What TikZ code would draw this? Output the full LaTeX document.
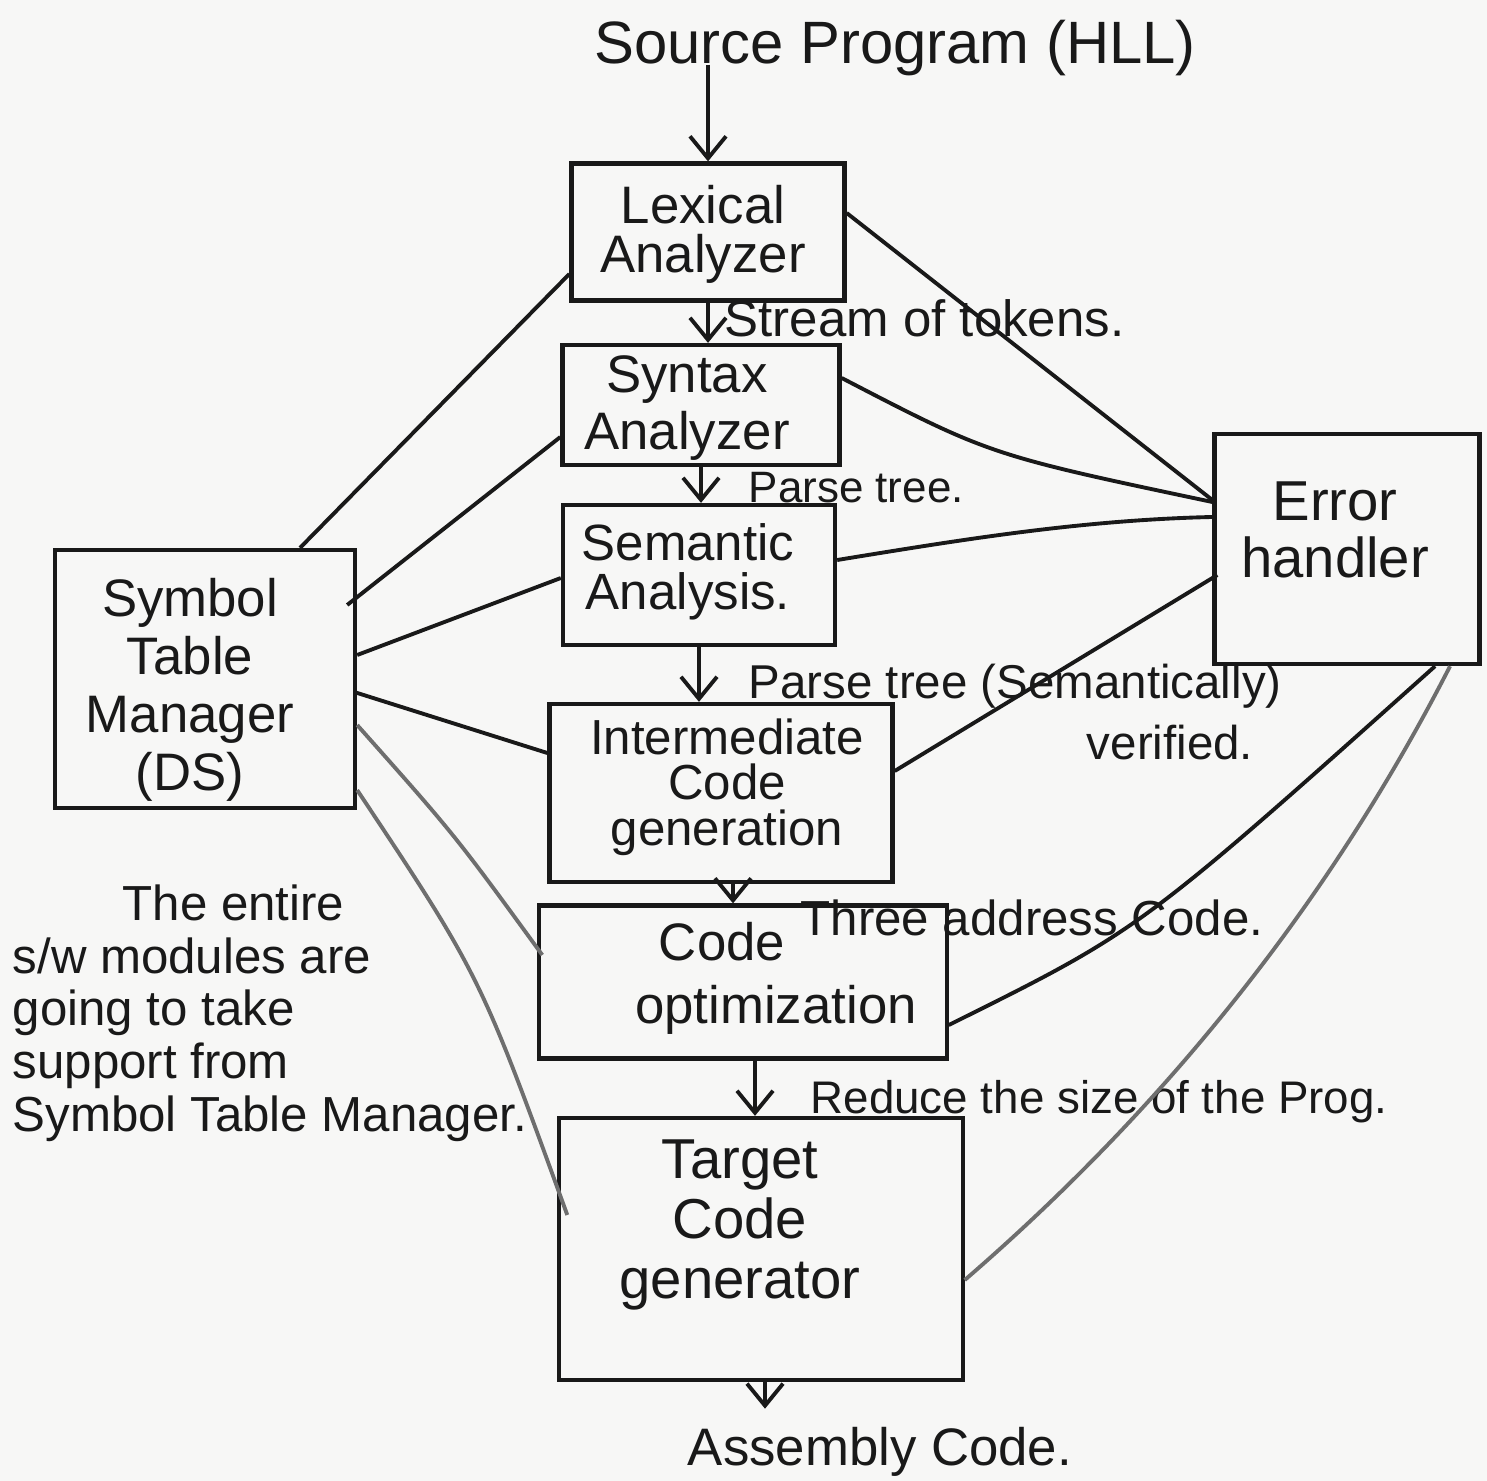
\documentclass[tikz,border=0pt]{standalone}
\usepackage{fontspec}
\setmainfont{Liberation Sans}
\usetikzlibrary{arrows.meta,calc}
\definecolor{paper}{RGB}{247,247,246}
\definecolor{ink}{RGB}{25,25,25}
\definecolor{pencil}{RGB}{110,110,110}
\begin{document}
\begin{tikzpicture}[x=0.01cm,y=-0.01cm,
  box/.style={draw=ink,line width=1.2pt,inner sep=0pt},
  lbl/.style={text=ink,align=center,inner sep=0pt},
  note/.style={text=ink,inner sep=0pt,anchor=west},
  flow/.style={draw=ink,line width=1.1pt,-{Straight Barb[length=2.2mm,width=3.6mm]}},
  link/.style={draw=ink,line width=1.1pt},
  faint/.style={draw=pencil,line width=1.1pt}]
\fill[paper] (0,0) rectangle (1487,1481);
\useasboundingbox (0,0) rectangle (1487,1481);

% phase boxes
\node[box,minimum width=2.73cm,minimum height=1.37cm] (lex) at (708,232) {};
\node[box,minimum width=2.77cm,minimum height=1.20cm] (syn) at (701,405) {};
\node[box,minimum width=2.72cm,minimum height=1.40cm] (sem) at (699,575) {};
\node[box,minimum width=3.43cm,minimum height=1.78cm] (icg) at (721,793) {};
\node[box,minimum width=4.07cm,minimum height=1.53cm] (opt) at (743,982) {};
\node[box,minimum width=4.03cm,minimum height=2.62cm] (tcg) at (761,1249) {};
\node[box,minimum width=3.00cm,minimum height=2.58cm] (stm) at (205,679) {};
\node[box,minimum width=2.65cm,minimum height=2.30cm] (err) at (1347,549) {};

% box texts
\node[lbl,font=\fontsize{15}{14}\selectfont] (lexT) at (703,234) {Lexical\\Analyzer};
\node[lbl,font=\fontsize{15}{16}\selectfont] (synT) at (687,408) {Syntax\\Analyzer};
\node[lbl,font=\fontsize{14.5}{14}\selectfont] (semT) at (688,572) {Semantic\\Analysis.};
\node[lbl,font=\fontsize{14}{13}\selectfont] (icgT) at (727,787) {Intermediate\\Code\\generation};
\node[lbl,font=\fontsize{15}{15}\selectfont] (optT1) at (722,942) {Code};
\node[lbl,font=\fontsize{15}{15}\selectfont] (optT2) at (776,1010) {optimization};
\node[lbl,font=\fontsize{16}{17}\selectfont] (tcgT) at (740,1225) {Target\\Code\\generator};
\node[lbl,font=\fontsize{15}{16.5}\selectfont] (stmT) at (190,690) {Symbol\\Table\\Manager\\(DS)};
\node[lbl,font=\fontsize{16}{16}\selectfont] (errT) at (1335,530) {Error\\handler};

% input and output
\node[lbl,font=\fontsize{17}{17}\selectfont] (src) at (895,48) {Source Program (HLL)};
\node[lbl,font=\fontsize{15}{15}\selectfont] (asm) at (880,1452) {Assembly Code.};

% main flow
\draw[flow] (lex.north |- src.south) ++(0,-12) -- (lex.north);
\draw[flow] (lex.south) -- (lex.south |- syn.north);
\draw[flow] (syn.south) -- (syn.south |- sem.north);
\draw[flow] (sem.south) -- (sem.south |- icg.north);
\draw[flow] ([xshift=0.12cm]icg.south) -- ([xshift=0.12cm]icg.south |- opt.north);
\draw[flow] ([xshift=0.12cm]opt.south) -- ([xshift=0.12cm]opt.south |- tcg.north);
\draw[flow,shorten >=0.18cm] ([xshift=0.04cm]tcg.south) -- ([xshift=0.04cm]tcg.south |- asm.north);

% flow labels
\node[note,font=\fontsize{14.5}{14.5}\selectfont] (l1) at (724,318) {Stream of tokens.};
\node[note,font=\fontsize{12.5}{12.5}\selectfont] (l2) at (748,488) {Parse tree.};
\node[note,font=\fontsize{13.5}{13.5}\selectfont] (l3) at (748,686) {Parse tree (Semantically)};
\node[lbl,font=\fontsize{13.5}{13.5}\selectfont] (l3b) at (1170,743) {verified.};
\node[note,font=\fontsize{14}{14}\selectfont] (l4) at (800,918) {Three address Code.};
\node[note,font=\fontsize{13}{13}\selectfont] (l5) at (810,1102) {Reduce the size of the Prog.};

% symbol table links
\draw[link] ([xshift=0.95cm]stm.north) -- ([yshift=-0.42cm]lex.west);
\draw[link] ([xshift=-0.1cm,yshift=0.74cm]stm.east) -- ([yshift=-0.32cm]syn.west);
\draw[link] ([yshift=0.24cm]stm.east) -- ([yshift=-0.03cm]sem.west);
\draw[link] ([xshift=-0.03cm,yshift=-0.13cm]stm.east) -- ([yshift=0.4cm]icg.west);
\draw[faint] ([yshift=-0.46cm]stm.east) .. controls (455,835) .. ([xshift=0.05cm,yshift=0.27cm]opt.west);
\draw[faint] ([yshift=-1.11cm]stm.east) .. controls (480,975) .. ([xshift=0.1cm,yshift=0.34cm]tcg.west);

% error handler links
\draw[link] ([yshift=0.19cm]lex.east) -- ([yshift=0.49cm]err.west);
\draw[link] ([yshift=0.27cm]syn.east) .. controls (990,455) .. ([yshift=0.47cm]err.west);
\draw[link] ([yshift=0.15cm]sem.east) .. controls (960,540) and (1080,520) .. ([yshift=0.32cm]err.west);
\draw[link] ([yshift=0.22cm]icg.east) -- ([xshift=0.05cm,yshift=-0.26cm]err.west);
\draw[link] ([yshift=-0.43cm]opt.east) .. controls (1140,930) .. ([xshift=0.88cm]err.south);
\draw[faint] ([yshift=-0.31cm]tcg.east) .. controls (1150,1120) and (1320,920) .. ([xshift=1.03cm]err.south);

% side note
\node[text=ink,align=left,anchor=north west,inner sep=0pt,
      font=\fontsize{14}{15}\selectfont] (memo) at (12,884)
  {\hspace*{1.1cm}The entire\\s/w modules are\\going to take\\support from\\Symbol Table Manager.};
\end{tikzpicture}
\end{document}
